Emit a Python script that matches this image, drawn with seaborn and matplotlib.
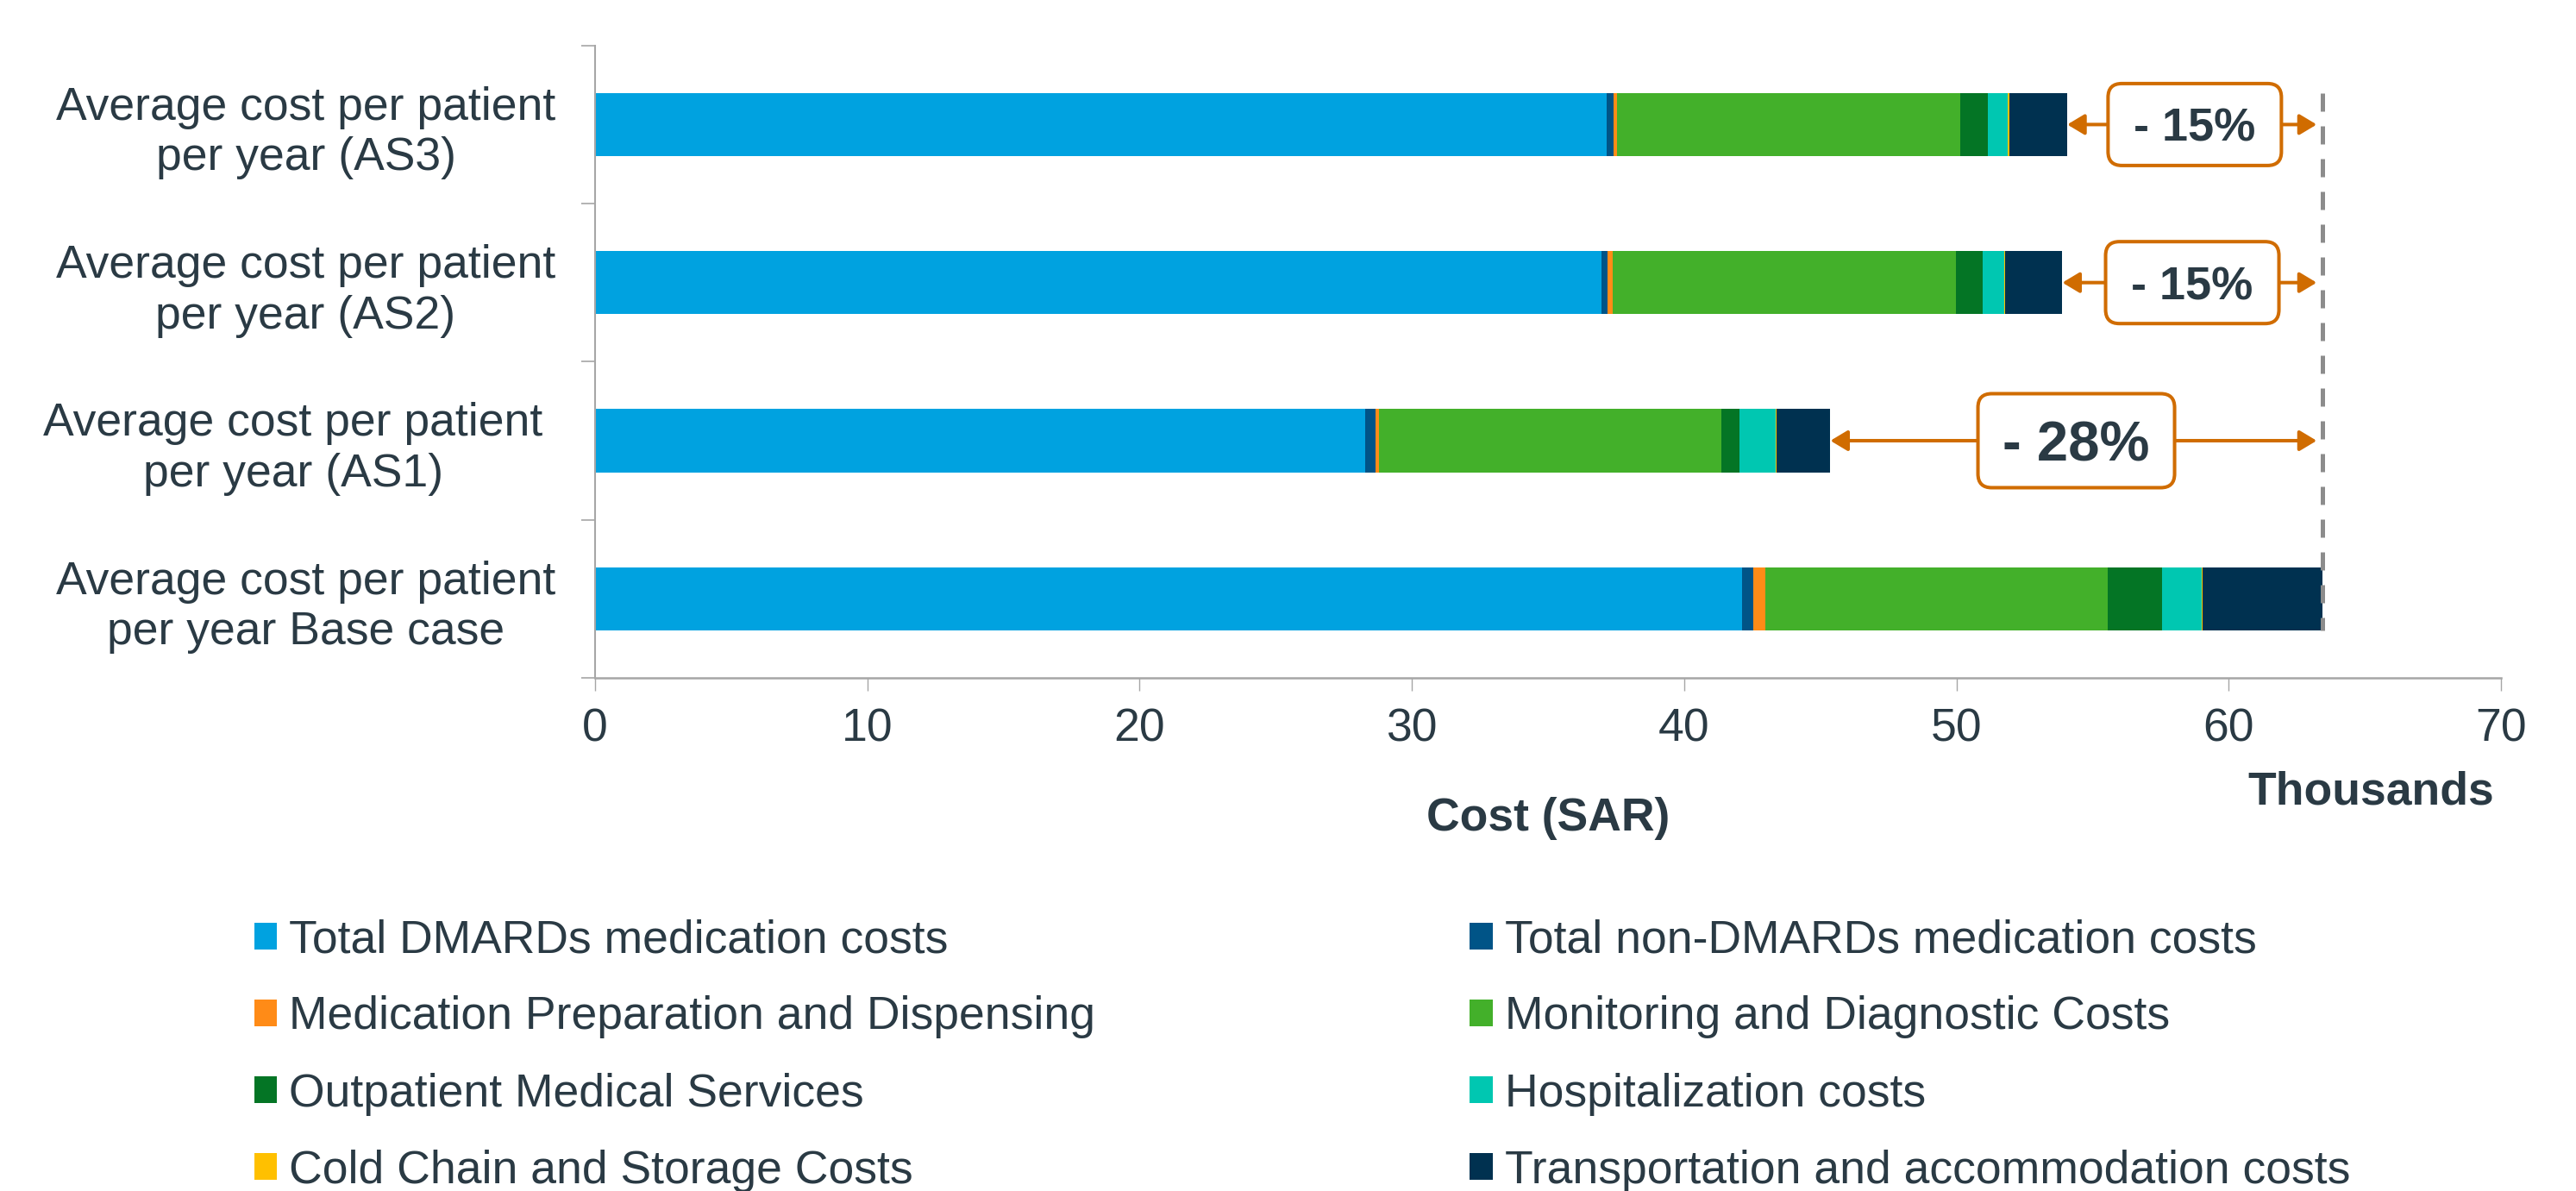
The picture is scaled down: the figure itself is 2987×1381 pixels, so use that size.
import numpy as np
import pandas as pd
import matplotlib
matplotlib.use("Agg")
import matplotlib.pyplot as plt
import seaborn as sns
from matplotlib.patches import FancyBboxPatch, Patch
from matplotlib.transforms import ScaledTranslation

# ---------------- data (thousands SAR) ----------------
categories = [
    "Average cost per patient\nper year (AS3)",
    "Average cost per patient\nper year (AS2)",
    "Average cost per patient \nper year (AS1) ",
    "Average cost per patient\nper year Base case",
]
series_names = [
    "Total DMARDs medication costs",
    "Total non-DMARDs medication costs",
    "Medication Preparation and Dispensing",
    "Monitoring and Diagnostic Costs",
    "Outpatient Medical Services",
    "Hospitalization costs",
    "Cold Chain and Storage Costs",
    "Transportation and accommodation costs",
]
dmards          = [37.16, 36.96, 28.28, 42.14]
non_dmards      = [0.25, 0.24, 0.38, 0.39]
preparation     = [0.13, 0.16, 0.12, 0.45]
monitoring      = [12.60, 12.62, 12.58, 12.59]
outpatient      = [1.00, 0.98, 0.68, 1.97]
hospitalization = [0.75, 0.78, 1.31, 1.46]
cold_chain      = [0.06, 0.05, 0.05, 0.05]
transport       = [2.12, 2.10, 1.97, 4.38]

colors = ["#00A2E0", "#005487", "#FF8B17", "#43B02A",
          "#047525", "#00C7B1", "#FFC000", "#003150"]
text_color = "#2A3A44"
accent = "#D06C00"

series = [dmards, non_dmards, preparation, monitoring,
          outpatient, hospitalization, cold_chain, transport]
cum = np.cumsum(np.array(series), axis=0)

# ---------------- style ----------------
sns.set_theme(style="white")
plt.rcParams["font.family"] = ["Liberation Sans", "DejaVu Sans"]
plt.rcParams["text.color"] = text_color
plt.rcParams["axes.labelcolor"] = text_color
plt.rcParams["xtick.color"] = text_color
plt.rcParams["ytick.color"] = text_color

fig = plt.figure(figsize=(29.87, 13.81), dpi=100)
ax = fig.add_axes([0.2310, 0.4309, 0.9709 - 0.2310, 0.9618 - 0.4309])

# stacked bars: draw cumulative totals, largest first
for i in reversed(range(len(series))):
    df = pd.DataFrame({"cat": categories, "value": cum[i]})
    sns.barplot(data=df, x="value", y="cat", orient="h", color=colors[i],
                saturation=1, width=0.4, linewidth=0, edgecolor="none",
                errorbar=None, ax=ax)

ax.set_xlim(0, 70)
ax.set_ylim(3.5, -0.5)
ax.set_xticks(np.arange(0, 71, 10))
ax.set_xticklabels([str(v) for v in range(0, 71, 10)], fontsize=38.5)
ax.set_yticks(range(len(categories)))
ax.set_yticklabels(categories, fontsize=38.5, ma="center", linespacing=1.22)
ax.set_yticks([-0.5, 0.5, 1.5, 2.5, 3.5], minor=True)
ax.tick_params(axis="y", which="major", length=0, pad=33)
ax.tick_params(axis="y", which="minor", length=11.5, width=1.2, color="#A6A6A6", left=True)
ax.tick_params(axis="x", which="major", length=11, width=1.0, color="#A6A6A6",
               bottom=True, pad=14)
ax.set_ylabel("")

for s in ["top", "right"]:
    ax.spines[s].set_visible(False)
ax.spines["left"].set_color("#A6A6A6")
ax.spines["left"].set_linewidth(1.5)
ax.spines["bottom"].set_color("#A6A6A6")
ax.spines["bottom"].set_linewidth(1.8)

ax.set_xlabel("Cost (SAR)", fontsize=38.5, fontweight="bold", color=text_color)
ax.xaxis.label.set_va("baseline")
ax.xaxis.set_label_coords(0.5, -0.2414)
ax.text(0.9964, -0.2005, "Thousands", transform=ax.transAxes, ha="right",
        va="baseline", fontsize=38.5, fontweight="bold", color=text_color)

# dashed reference line at base case total
base_total = cum[-1][3]
ax.vlines(base_total, -0.2, 3.2, colors="#8C8C8C", linewidth=3.6,
          linestyles=(0, (4.2, 3.4)), zorder=7)

# reduction annotations
def add_annotation(row, w_in, h_in, fs):
    total = cum[-1][row]
    pct = round((total / base_total - 1) * 100)
    xc = (total + base_total) / 2
    yc = row
    arrow_kw = dict(arrowstyle="-|>,head_length=0.6,head_width=0.36",
                    color=accent, lw=2.9, mutation_scale=20,
                    shrinkA=0, shrinkB=0)
    ax.annotate("", xy=(total, yc), xytext=(xc, yc), arrowprops=arrow_kw, zorder=4)
    ax.annotate("", xy=(base_total - 0.2, yc), xytext=(xc, yc), arrowprops=arrow_kw, zorder=4)
    tr = fig.dpi_scale_trans + ScaledTranslation(xc, yc, ax.transData)
    box = FancyBboxPatch((-w_in / 2, -h_in / 2), w_in, h_in,
                         boxstyle="round,pad=0,rounding_size=0.16",
                         transform=tr, fc="white", ec=accent, lw=2.9,
                         zorder=5, clip_on=False)
    ax.add_patch(box)
    ax.annotate(f"- {abs(pct)}%", xy=(xc, yc), xytext=(0, -0.358 * fs),
                textcoords="offset points", ha="center", va="baseline",
                fontsize=fs, fontweight="bold", color=text_color, zorder=6)

add_annotation(0, 2.01, 0.95, 39)
add_annotation(1, 2.01, 0.95, 39)
add_annotation(2, 2.28, 1.09, 47)

# legend (two columns)
handles = [Patch(facecolor=c, edgecolor="none", label=n) for c, n in zip(colors, series_names)]
order = [0, 2, 4, 6, 1, 3, 5, 7]
fig.legend([handles[i] for i in order], [series_names[i] for i in order],
           ncol=2, loc="upper left", bbox_to_anchor=(0.0986, 0.2285),
           frameon=False, fontsize=38.5, handlelength=0.49, handleheight=0.51,
           handletextpad=0.27, columnspacing=8.12, labelspacing=0.73,
           borderpad=0, borderaxespad=0)

fig.savefig("out.png", dpi=100)
